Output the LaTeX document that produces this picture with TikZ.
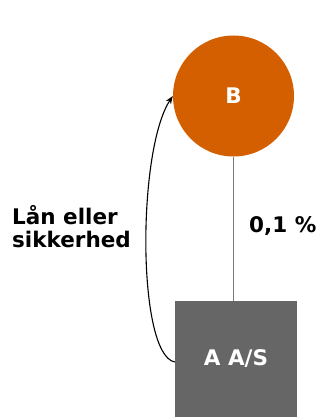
\documentclass[tikz,border=0pt]{standalone}
\usepackage{fontspec}
\setmainfont{DejaVu Sans}
\usetikzlibrary{arrows.meta}

\definecolor{ownerorange}{HTML}{D35F00}
\definecolor{boxgray}{HTML}{666666}
\definecolor{linkgray}{HTML}{7A7A7A}

\begin{document}
\begin{tikzpicture}[x=1pt,y=-1pt,
		every node/.style={font=\fontsize{21.5}{23}\selectfont\bfseries},
		owner/.style={circle,fill=ownerorange,minimum size=121pt,inner sep=0pt,text=white},
		company/.style={rectangle,fill=boxgray,minimum width=122pt,minimum height=116pt,inner sep=0pt,text=white}]

		\useasboundingbox (0,0) rectangle (325,417);

		\coordinate (Bc) at (233.5,96);
		\coordinate (Ac) at (236,359);

		\node [owner] (B) at (Bc) {B};
		\node [company] (AAS) at (Ac) {A A/S};

		% ownership share
		\draw [linkgray, line width=1pt] (B.south) -- (B.south |- AAS.north);
		\node [anchor=base west, inner sep=0pt] (share) at (249,232) {0,1 \%};

		% loan back to the owner
		\coordinate (start) at (AAS.west |- 0,362);
		\draw [-{Stealth[length=8pt,width=6pt]}, line width=1.1pt]
			(start) .. controls (137,355) and (137,150) .. (B.west);
		\node [anchor=north west, inner sep=0pt, align=left] (loan) at (12,205) {Lån eller\\sikkerhed};

\end{tikzpicture}
\end{document}
